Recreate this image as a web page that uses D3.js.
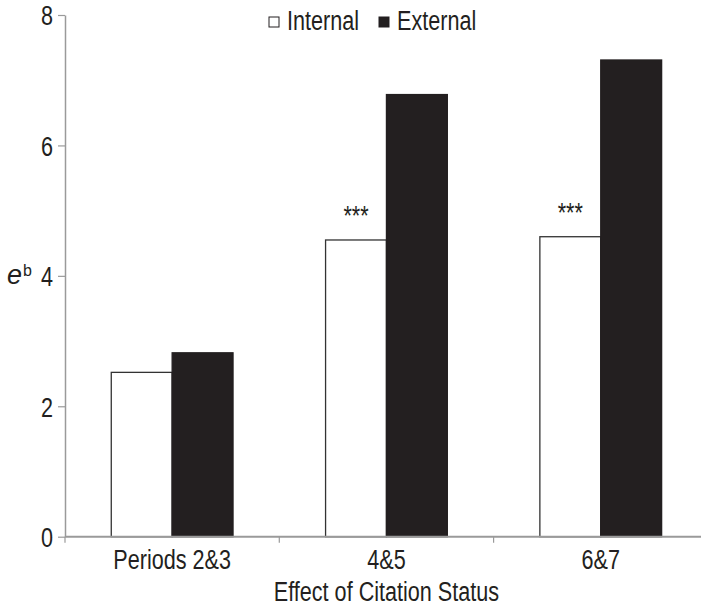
<!DOCTYPE html>
<html>
<head>
<meta charset="utf-8">
<script src="https://cdn.jsdelivr.net/npm/d3@7"></script>
<style>
  body { margin: 0; background: #fff; }
  svg { display: block; }
  text { font-family: "Liberation Sans", Arial, sans-serif; fill: #231f20; }
</style>
</head>
<body>
<script>
// data
const periods = ['Periods 2&3', '4&5', '6&7'];
const series = ['Internal', 'External'];
const internal = [2.52, 4.55, 4.60];
const external = [2.82, 6.78, 7.31];
const stars = ['', '***', '***'];
const yTicks = [0, 2, 4, 6, 8];

const width = 701;
const height = 611;
const margin = { top: 15, left: 65, bottom: 74 };
const black = '#231f20';
const fs = '27px';

const rows = periods.map((p, i) => ({ period: p, Internal: internal[i], External: external[i], star: stars[i] }));

const svg = d3.select('body').append('svg').attr('width', width).attr('height', height);

const y = d3.scaleLinear().domain([0, 8]).range([height - margin.bottom - 0.3, margin.top]);
const x0 = d3.scaleBand().domain(periods).range([margin.left, margin.left + 3 * 214.3]).padding(0);
const x1 = d3.scaleBand().domain(series).range([0, x0.bandwidth()]).paddingInner(0).paddingOuter(0.76);
const fill = d3.scaleOrdinal().domain(series).range(['#fff', black]);

// bars
const groups = svg.append('g').selectAll('g')
  .data(rows)
  .enter().append('g')
    .attr('transform', d => `translate(${x0(d.period)},0)`);

groups.selectAll('rect')
  .data(d => series.map(s => ({ key: s, value: d[s] })))
  .enter().append('rect')
    .attr('x', d => x1(d.key))
    .attr('y', d => y(d.value))
    .attr('width', x1.bandwidth())
    .attr('height', d => y(0) - y(d.value))
    .attr('fill', d => fill(d.key))
    .attr('stroke', d => d.key === 'Internal' ? '#333' : black)
    .attr('stroke-width', 1.3);

// significance marks over internal bars
groups.append('text')
  .attr('x', x1('Internal') + x1.bandwidth() / 2)
  .attr('y', d => y(d.Internal) - 15)
  .attr('text-anchor', 'middle')
  .style('font-size', fs)
  .text(d => d.star);

// y axis
const yAxis = svg.append('g')
  .attr('transform', `translate(${margin.left},0)`)
  .call(d3.axisLeft(y).tickValues(yTicks).tickSize(7).tickSizeOuter(0).tickPadding(5));
yAxis.selectAll('text').style('font-size', fs).attr('dy', '0.36em');
yAxis.select('.domain').attr('stroke', '#9a9a9a').attr('stroke-width', 1.5);
yAxis.selectAll('.tick line').attr('stroke', '#9a9a9a').attr('stroke-width', 1.2);

// x axis
const xAxis = svg.append('g')
  .attr('transform', `translate(0,${y(0)})`)
  .call(d3.axisBottom(x0).tickSize(0).tickPadding(13));
xAxis.select('.domain').attr('d', `M${margin.left},0H${width}`).attr('stroke', '#9a9a9a').attr('stroke-width', 2);
xAxis.selectAll('.tick text').style('font-size', fs).attr('dy', '0.71em');
xAxis.selectAll('.sep')
  .data(periods)
  .enter().append('line')
    .attr('class', 'sep')
    .attr('x1', d => x0(d))
    .attr('x2', d => x0(d))
    .attr('y1', 0)
    .attr('y2', 6)
    .attr('stroke', '#9a9a9a')
    .attr('stroke-width', 1.2);

svg.append('text')
  .attr('x', x0('4&5') + x0.bandwidth() / 2)
  .attr('y', 601)
  .attr('text-anchor', 'middle')
  .style('font-size', fs)
  .text('Effect of Citation Status');

// legend
const legendX = [269, 379];
const legend = svg.append('g').selectAll('g')
  .data(series)
  .enter().append('g')
    .attr('transform', (d, i) => `translate(${legendX[i]},17)`);
legend.append('rect')
  .attr('width', 10)
  .attr('height', 10)
  .attr('fill', d => fill(d))
  .attr('stroke', black)
  .attr('stroke-width', 1);
legend.append('text')
  .attr('x', 18)
  .attr('y', 13)
  .style('font-size', fs)
  .text(d => d);

// the original face is a narrow sans; squeeze every label horizontally
svg.selectAll('text').each(function () {
  const w = this.getComputedTextLength();
  if (w > 0) d3.select(this).attr('textLength', w * 0.8).attr('lengthAdjust', 'spacingAndGlyphs');
});

// y label e^b (drawn as one text with a raised tspan)
const ylab = svg.append('text')
  .attr('x', 7)
  .attr('y', 284)
  .style('font-size', fs);
ylab.append('tspan').style('font-style', 'italic').text('e');
ylab.append('tspan').attr('dx', 1).attr('dy', -8).style('font-size', '16px').text('b');
</script>
</body>
</html>
